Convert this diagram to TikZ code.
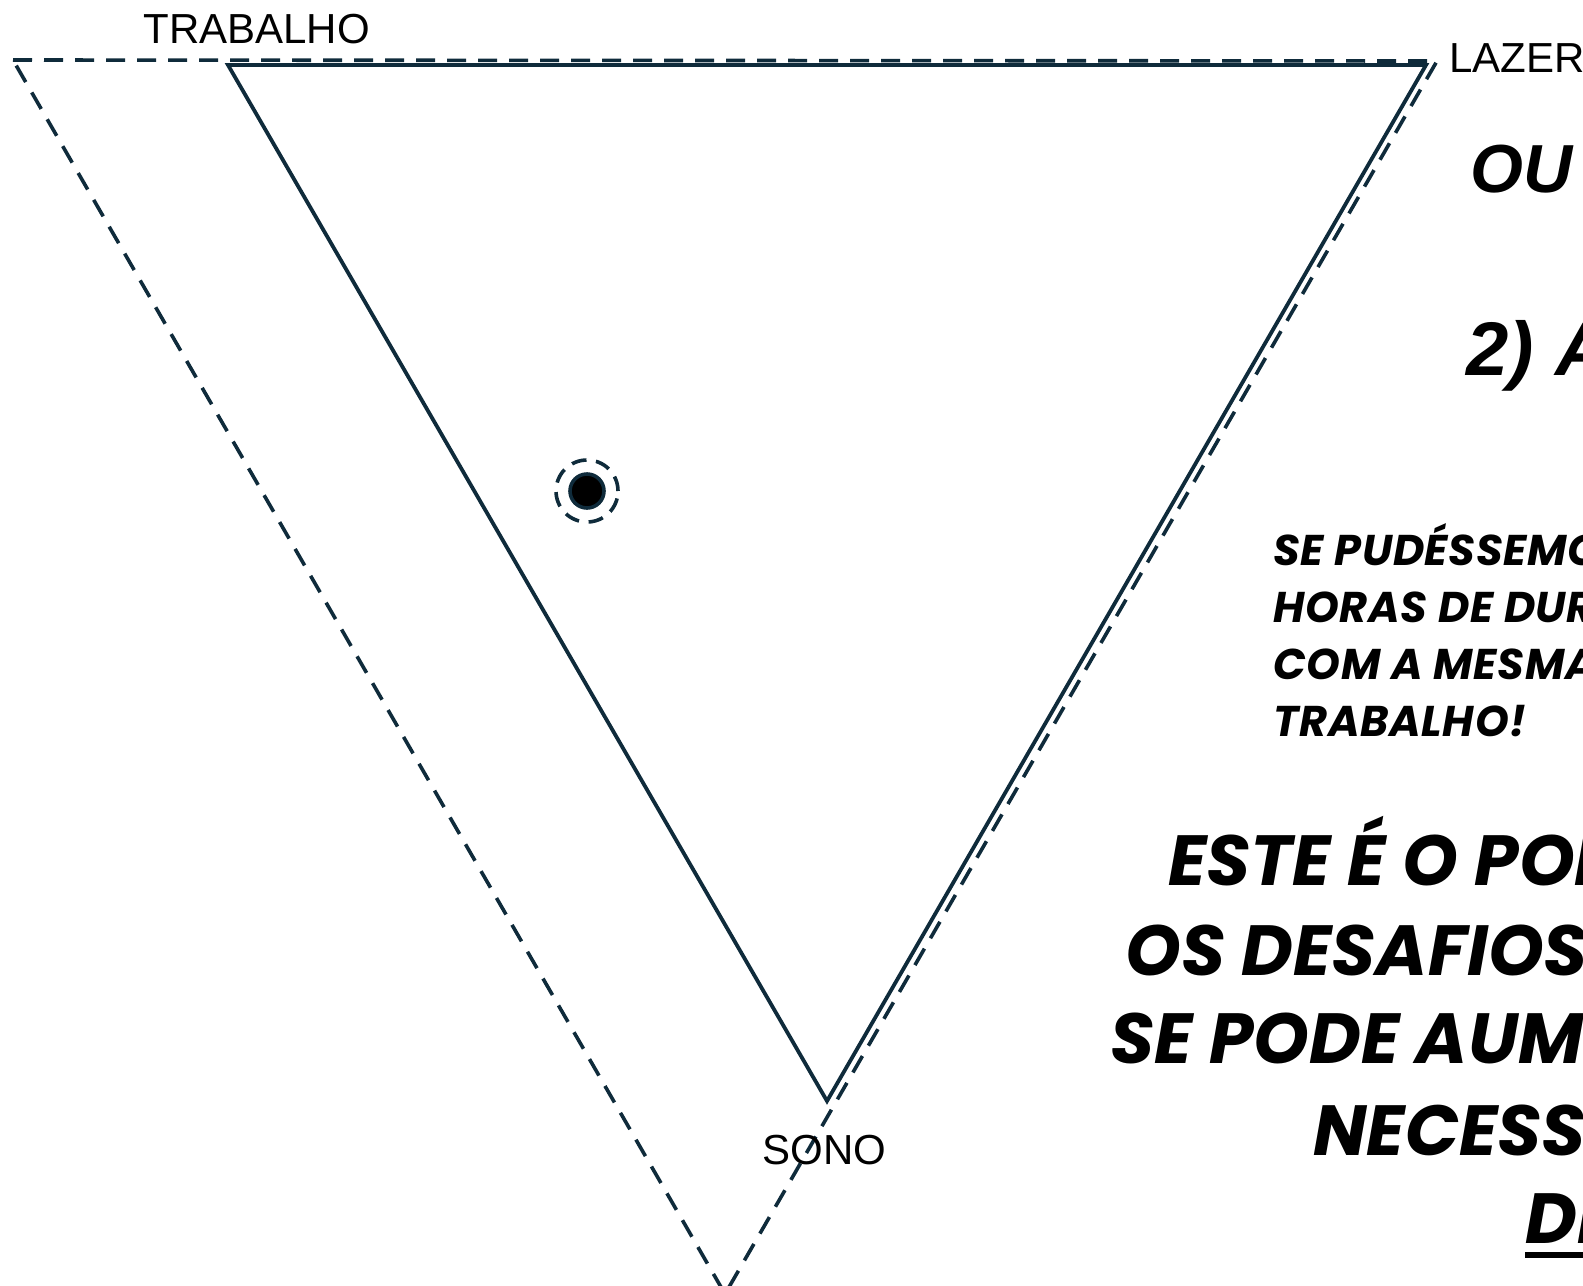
\documentclass[tikz,border=0pt]{standalone}
\usepackage{fontspec}
\setmainfont{Liberation Sans}
\newfontfamily\pop{Poppins}
\newfontfamily\popwide{Poppins}[LetterSpace=1.5]
\definecolor{lineC}{HTML}{0F2B3B}
\begin{document}
\begin{tikzpicture}[x=0.5pt,y=-0.5pt,
  tri/.style={draw=lineC, line width=1.9pt, line join=miter},
  dtri/.style={draw=lineC, line width=1.8pt, dash pattern=on 9.5pt off 6pt},
  lbl/.style={font=\fontsize{21}{25}\selectfont, inner sep=0pt, anchor=base west},
  head/.style={font=\fontsize{34}{40}\selectfont\bfseries\itshape, inner sep=0pt, anchor=base west},
  mid/.style={font=\popwide\fontsize{21.5}{24}\selectfont\bfseries\itshape, inner sep=0pt, anchor=base west},
  big/.style={font=\pop\fontsize{35.5}{40}\selectfont\bfseries\itshape, inner sep=0pt, anchor=base west}]
\useasboundingbox (0,0) rectangle (1583,1285);
\clip (0,0) rectangle (1583,1285);
% dashed outer triangle
\coordinate (dA) at (13,60);
\coordinate (dB) at (1437,61);
\coordinate (dC) at (725,1294);
\draw[dtri] (dA) -- (dB) -- (dC) -- cycle;
% solid inner triangle
\coordinate (sA) at (228,65);
\coordinate (sB) at (1426,65);
\coordinate (sC) at (827,1101);
\draw[tri] (sA) -- (sB) -- (sC) -- cycle;
% marker
\node[circle, draw=lineC, line width=1.8pt, dash pattern=on 7.5pt off 4.8pt, minimum size=31pt, inner sep=0pt] (ring) at (587,491) {};
\node[circle, draw=lineC, fill=black, line width=1.8pt, minimum size=17pt, inner sep=0pt] (dot) at (ring.center) {};
% labels
\node[lbl] (trab) at (143,43) {TRABALHO};
\node[lbl] (lazer) at (1449,72) {LAZER};
\node[lbl] (sono) at (762,1164) {SONO};
% right texts
\node[head] (ou) at (1470,192) {OU};
\node[head, font=\fontsize{38}{44}\selectfont\bfseries\itshape] (dois) at (1466,375) {2) AS};
\node[mid] (m1) at (1273,565) {SE PUDÉSSEMOS};
\node[mid] (m2) at (1273,622) {HORAS DE DURAÇÃO};
\node[mid] (m3) at (1273,679) {COM A MESMA};
\node[mid] (m4) at (1273,736) {TRABALHO!};
\node[big] (b1) at (1168,885) {ESTE É O PONTO};
\node[big] (b2) at (1125,975) {OS DESAFIOS};
\node[big] (b3) at (1110,1063) {SE PODE AUMENTAR};
\node[big] (b4) at (1313,1155) {NECESSÁRIO};
\node[big] (b5) at (1525,1243) {DE};
\draw[line width=2.6pt] ([yshift=-6pt]b5.base west) -- ([yshift=-6pt]b5.base east);
\end{tikzpicture}
\end{document}
